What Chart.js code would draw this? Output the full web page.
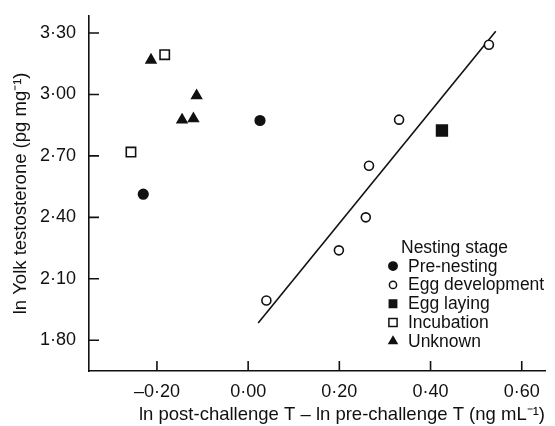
<!DOCTYPE html>
<html>
<head>
<meta charset="utf-8">
<script src="https://cdn.jsdelivr.net/npm/chart.js@4/dist/chart.umd.min.js"></script>
<style>
  html, body { margin: 0; padding: 0; background: #fff; }
</style>
</head>
<body>
<canvas id="chart" width="555" height="426"></canvas>
<script>
// Data
const preNestingX = [-0.230, 0.026];
const preNestingY = [2.513, 2.873];
const eggDevX = [0.040, 0.199, 0.258, 0.265, 0.331, 0.528];
const eggDevY = [1.994, 2.239, 2.400, 2.652, 2.877, 3.243];
const eggLayingX = [0.425];
const eggLayingY = [2.824];
const incubationX = [-0.257, -0.183];
const incubationY = [2.719, 3.194];
const unknownX = [-0.213, -0.145, -0.120, -0.113];
const unknownY = [3.168, 2.876, 2.882, 2.994];
// fitted line end points
const fitX = [0.022, 0.543];
const fitY = [1.884, 3.308];

const xTicks = [-0.20, 0.00, 0.20, 0.40, 0.60];
const yTicks = [1.80, 2.10, 2.40, 2.70, 3.00, 3.30];

const INK = "#111";
const FONT = '"Liberation Sans", Arial, Helvetica, sans-serif';
Chart.defaults.font.family = FONT;
Chart.defaults.color = INK;

const toPoints = (xs, ys) => xs.map((x, i) => ({ x: x, y: ys[i] }));
const fmt = (v) => (v < -1e-9 ? "\u2013" : "") + Math.abs(v).toFixed(2).replace(".", "\u00b7");

// r = marker radius on plot, lr = radius in legend
const groups = [
  { label: "Pre-nesting", xs: preNestingX, ys: preNestingY, style: "circle", fill: INK, r: 4.8, lr: 4.2 },
  { label: "Egg development", xs: eggDevX, ys: eggDevY, style: "circle", fill: "#fff", r: 4.5, lr: 3.6 },
  { label: "Egg laying", xs: eggLayingX, ys: eggLayingY, style: "rect", fill: INK, r: 7.6, lr: 5.2 },
  { label: "Incubation", xs: incubationX, ys: incubationY, style: "rect", fill: "#fff", r: 6.6, lr: 5.8 },
  { label: "Unknown", xs: unknownX, ys: unknownY, style: "triangle", fill: INK, r: 5.6, lr: 4.6 },
];

const datasets = groups.map((g) => ({
  label: g.label,
  data: toPoints(g.xs, g.ys),
  pointStyle: g.style,
  pointRadius: g.r,
  pointBackgroundColor: g.fill,
  pointBorderColor: INK,
  pointBorderWidth: 1.6,
}));
datasets.push({
  type: "line",
  label: "fit",
  data: toPoints(fitX, fitY),
  showLine: true,
  borderColor: INK,
  borderWidth: 1.6,
  pointRadius: 0,
  fill: false,
});

// tick marks pointing into the plot
const insideTicks = {
  id: "insideTicks",
  afterDraw(chart) {
    const ctx = chart.ctx;
    const area = chart.chartArea;
    const sx = chart.scales.x;
    const sy = chart.scales.y;
    ctx.save();
    ctx.strokeStyle = INK;
    ctx.lineWidth = 1.6;
    ctx.beginPath();
    xTicks.forEach((v) => {
      const px = sx.getPixelForValue(v);
      ctx.moveTo(px, area.bottom);
      ctx.lineTo(px, area.bottom - 10);
    });
    yTicks.forEach((v) => {
      const py = sy.getPixelForValue(v);
      ctx.moveTo(area.left, py);
      ctx.lineTo(area.left + 10, py);
    });
    ctx.stroke();
    ctx.restore();
  },
};

// legend inside the plot, lower right
const stageLegend = {
  id: "stageLegend",
  afterDraw(chart) {
    const ctx = chart.ctx;
    const area = chart.chartArea;
    const markerX = area.right - 152;
    const textX = area.right - 137;
    const titleBase = area.top + 237;
    const rowH = 18.8;
    ctx.save();
    ctx.font = "17.5px " + FONT;
    ctx.textBaseline = "alphabetic";
    ctx.textAlign = "left";
    ctx.fillStyle = INK;
    ctx.fillText("Nesting stage", markerX + 8, titleBase);
    groups.forEach((g, i) => {
      const base = titleBase + rowH * (i + 1);
      ctx.fillStyle = g.fill;
      ctx.strokeStyle = INK;
      ctx.lineWidth = 1.5;
      Chart.helpers.drawPoint(ctx, { pointStyle: g.style, radius: g.lr, borderWidth: 1.5, rotation: 0 }, markerX, base - 5.5);
      ctx.fillStyle = INK;
      ctx.fillText(g.label, textX, base);
    });
    ctx.restore();
  },
};

new Chart(document.getElementById("chart"), {
  type: "scatter",
  data: { datasets: datasets },
  plugins: [stageLegend, insideTicks],
  options: {
    responsive: false,
    animation: false,
    layout: { padding: { left: 0, right: 10, top: 13, bottom: 0 } },
    plugins: {
      legend: { display: false },
      tooltip: { enabled: false },
    },
    scales: {
      x: {
        type: "linear",
        min: -0.349,
        max: 0.651,
        afterBuildTicks: (s) => { s.ticks = xTicks.map((v) => ({ value: v })); },
        afterFit: (s) => { s.height = 55; },
        grid: { display: false },
        border: { display: true, color: INK, width: 1.6 },
        ticks: { padding: 2, font: { size: 18 }, color: INK, callback: (v) => fmt(v) },
        title: {
          display: true,
          align: "end",
          text: "ln post-challenge T \u2013 ln pre-challenge T (ng mL\u207b\u00b9)",
          font: { size: 18.5 },
          color: INK,
          padding: { top: 0, bottom: 0 },
        },
      },
      y: {
        type: "linear",
        min: 1.65,
        max: 3.384,
        afterBuildTicks: (s) => { s.ticks = yTicks.map((v) => ({ value: v })); },
        afterFit: (s) => { s.width = 89; },
        grid: { display: false },
        border: { display: true, color: INK, width: 1.6 },
        ticks: { padding: 5, font: { size: 18 }, color: INK, callback: (v) => fmt(v) },
        title: {
          display: true,
          text: "ln Yolk testosterone (pg mg\u207b\u00b9)",
          font: { size: 18.5 },
          color: INK,
          padding: { top: 10, bottom: 0 },
        },
      },
    },
  },
});
</script>
</body>
</html>
